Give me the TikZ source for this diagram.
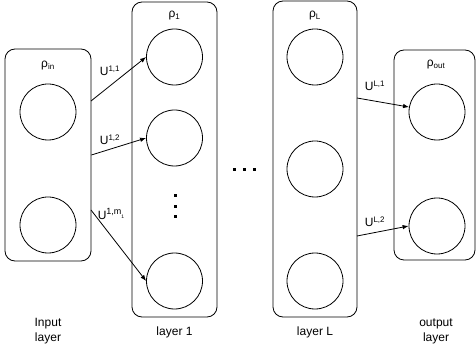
\documentclass[tikz,border=0pt]{standalone}
\usepackage{fontspec}
\setmainfont{Liberation Sans}
\usepackage{tikz}
\usetikzlibrary{shapes,arrows,positioning,calc,arrows.meta}

\tikzset{
    layerbox/.style={draw, rounded corners=10pt, line width=0.8pt, minimum width=#1, inner sep=0pt},
    neuron/.style={draw, circle, line width=0.8pt, minimum size=56pt, inner sep=0pt},
    weight/.style={-{Latex[length=6pt,width=4.5pt]}, line width=0.8pt},
    txt/.style={font=\fontsize{12}{15}\selectfont, align=center, inner sep=0pt}
}

\begin{document}
\begin{tikzpicture}[x=1pt, y=-1pt]
    \useasboundingbox (0,0) rectangle (476,352);

    % layer boxes
    \node[layerbox=86pt, minimum height=212pt] (inbox) at (48,155) {};
    \node[layerbox=85pt, minimum height=315pt] (onebox) at (174.5,159.5) {};
    \node[layerbox=84pt, minimum height=316pt] (lbox) at (315,159) {};
    \node[layerbox=81pt, minimum height=210pt] (outbox) at (434.5,155) {};

    % titles
    \node[txt] (rin) at (48,66) {ρ\textsubscript{in}};
    \node[txt] (rone) at (174.5,16) {ρ\textsubscript{1}};
    \node[txt] (rl) at (315,16) {ρ\textsubscript{L}};
    \node[txt] (rout) at (436,65) {ρ\textsubscript{out}};

    % neurons
    \node[neuron] (in1) at (48,112) {};
    \node[neuron] (in2) at (48,225) {};
    \node[neuron] (h1) at (174.5,57) {};
    \node[neuron] (h2) at (174.5,138) {};
    \node[neuron] (h3) at (174.5,281) {};
    \node[neuron] (l1) at (315,57) {};
    \node[neuron] (l2) at (315,169) {};
    \node[neuron] (l3) at (315,281) {};
    \node[neuron] (o1) at (437,112) {};
    \node[neuron] (o2) at (437,226) {};

    % dots
    \foreach \y in {196,206.5,217}
        \fill (173.5,\y-1.5) rectangle ++(3,3);
    \foreach \x in {234,244,254}
        \fill (\x-1.5,168.5) rectangle ++(3,3);

    % connections
    \coordinate (s1) at (91,101);
    \coordinate (s3) at (91,210);
    \draw[weight] (s1) -- (h1.west);
    \draw[weight] (inbox.east) -- (h2.west);
    \draw[weight] (s3) -- (h3.west);
    \coordinate (t1) at (357,98);
    \coordinate (t2) at (357,236);
    \draw[weight] (t1) -- (o1.170);
    \draw[weight] (t2) -- (o2.west);

    \node[txt] (u11) at (110,71) {U\textsuperscript{1,1}};
    \node[txt] (u12) at (110,140) {U\textsuperscript{1,2}};
    \node[txt] (u1m) at (111,214) {U\raisebox{0.42em}{\fontsize{9}{9}\selectfont 1,m\raisebox{-0.45em}{\fontsize{5}{5}\selectfont 1}}};
    \node[txt] (ul1) at (375,86) {U\textsuperscript{L,1}};
    \node[txt] (ul2) at (375,222) {U\textsuperscript{L,2}};

    % layer names
    \node[txt] (ninput) at (48,331) {Input\\layer};
    \node[txt] (none) at (174.5,332) {layer 1};
    \node[txt] (nl) at (315,332) {layer L};
    \node[txt] (nout) at (436,331) {output\\layer};
\end{tikzpicture}
\end{document}
